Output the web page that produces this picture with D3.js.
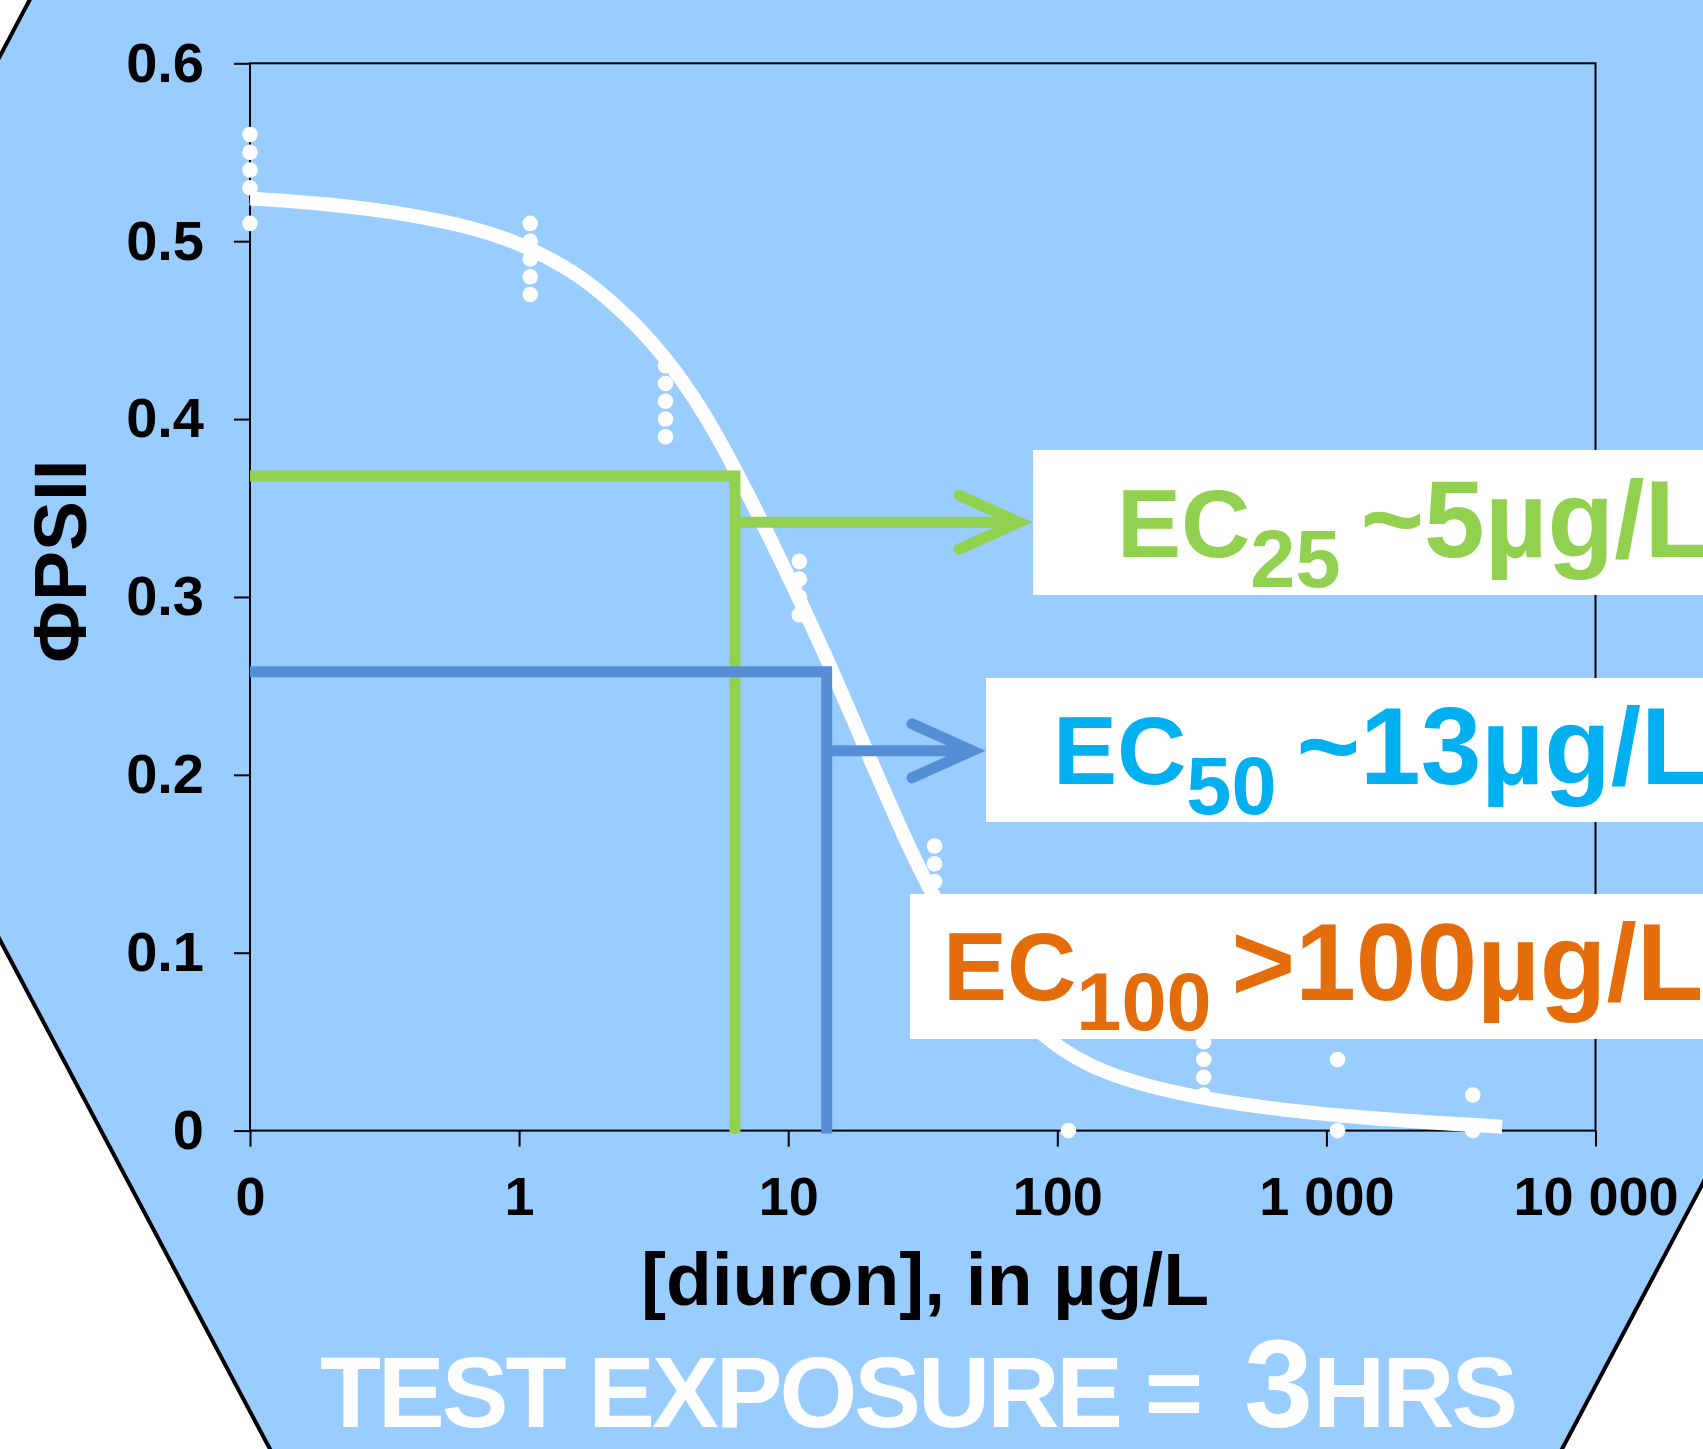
<!DOCTYPE html>
<html>
<head>
<meta charset="utf-8">
<script src="https://cdn.jsdelivr.net/npm/d3@7/dist/d3.min.js"></script>
<style>
	body { margin: 0; background: #ffffff; }
	svg { display: block; font-family: "Liberation Sans", Arial, sans-serif; }
</style>
</head>
<body>
<div id="chart"></div>
<script>

// doses in µg/L, the control (0) is drawn at the 0.1 position of the log axis
const xTickValues = [0.1, 1, 10, 100, 1000, 10000]
const xTickLabels = ["0", "1", "10", "100", "1 000", "10 000"]
const yTickValues = [0, 0.1, 0.2, 0.3, 0.4, 0.5, 0.6]

// replicate measurements of ΦPSII for each dose
const groupDose = [0.1, 1.1, 3.5, 11, 35, 110, 350, 1100, 3500]
const groupPhi = [
	[0.56, 0.55, 0.54, 0.53, 0.51],
	[0.51, 0.50, 0.49, 0.48, 0.47],
	[0.43, 0.42, 0.41, 0.40, 0.39],
	[0.32, 0.31, 0.30, 0.29],
	[0.16, 0.15, 0.14],
	[0],
	[0.05, 0.04, 0.03, 0.02],
	[0.04, 0],
	[0.02, 0]
]

// fitted dose-response curve
const fitDose = [0.1, 0.2, 0.4, 0.7, 1.0, 1.5, 2.0, 3.0, 4.0, 5.0, 6.2, 8.0, 10, 13.8, 20, 27, 34, 50, 90, 150, 350, 1100, 4500]
const fitPhi = [0.524, 0.521, 0.515, 0.507, 0.499, 0.4855, 0.472, 0.447, 0.423, 0.4005, 0.375, 0.342, 0.312, 0.267, 0.210, 0.165, 0.133, 0.092, 0.050, 0.031, 0.017, 0.0078, 0.0022]

// effect concentrations
const ecSub = ["25", "50", "100"]
const ecText = ["~5µg/L", "~13µg/L", ">100µg/L"]
const ecDose = [6.34, 13.9]
const ecPhi = [0.368, 0.258]
const ecArrowPhi = [0.342, 0.2135]


class DoseChart {

	constructor(parentElement){
		this.parentElement = parentElement
		this.initVis()
	}

	initVis(){
		let vis = this
		vis.width = 1703
		vis.height = 1449
		vis.plot = {left: 250, right: 1595.5, top: 63.3, bottom: 1130.6}

		vis.svg = d3.select(vis.parentElement)
			.append("svg")
			.attr("width", vis.width)
			.attr("height", vis.height)

		// !!Background hexagon
		vis.svg.append("polygon")
			.attr("points", [[-234, 499], [56, -50], [1800, -50], [1800, 1000], [1535, 1500], [297, 1500]].map(p => p.join(",")).join(" "))
			.attr("fill", "#99CCFF")
			.attr("stroke", "#000")
			.attr("stroke-width", 4)

		vis.x = d3.scaleLog()
			.domain([0.1, 10000])
			.range([vis.plot.left, vis.plot.right])

		vis.y = d3.scaleLinear()
			.domain([0, 0.6])
			.range([vis.plot.bottom, vis.plot.top])

		// !!Axes
		vis.svg.append("rect")
			.attr("x", vis.plot.left)
			.attr("y", vis.plot.top)
			.attr("width", vis.plot.right - vis.plot.left)
			.attr("height", vis.plot.bottom - vis.plot.top)
			.attr("fill", "none")
			.attr("stroke", "#000")
			.attr("stroke-width", 2)

		vis.yAxis = vis.svg.append("g")
			.attr("transform", "translate(" + vis.plot.left + ",0)")
			.call(d3.axisLeft(vis.y)
				.tickValues(yTickValues)
				.tickSize(16)
				.tickPadding(30)
				.tickFormat(d => d === 0 ? "0" : d.toFixed(1)))
		vis.yAxis.select(".domain").remove()

		vis.xAxis = vis.svg.append("g")
			.attr("transform", "translate(0," + vis.plot.bottom + ")")
			.call(d3.axisBottom(vis.x)
				.tickValues(xTickValues)
				.tickSize(16)
				.tickPadding(30)
				.tickFormat((d, i) => xTickLabels[i]))
		vis.xAxis.select(".domain").remove()

		vis.svg.selectAll(".tick line")
			.attr("stroke", "#000")
			.attr("stroke-width", 2)
		vis.svg.selectAll(".tick text")
			.attr("font-size", 54)
			.attr("font-weight", "bold")
			.attr("font-family", "'Liberation Sans', Arial, sans-serif")
			.attr("fill", "#000")
		vis.yAxis.selectAll(".tick text")
			.attr("font-size", 56)

		// !!Measured points
		let points = []
		groupDose.forEach(function(d, i){
			groupPhi[i].forEach(function(v){ points.push({dose: d, phi: v}) })
		})

		vis.svg.selectAll("circle.obs")
			.data(points)
			.enter()
			.append("circle")
			.attr("class", "obs")
			.attr("cx", d => vis.x(d.dose))
			.attr("cy", d => vis.y(d.phi))
			.attr("r", 7.8)
			.attr("fill", "#fff")

		// !!Fitted curve
		vis.line = d3.line()
			.x(d => vis.x(d[0]))
			.y(d => vis.y(d[1]))
			.curve(d3.curveBasis)

		vis.svg.append("path")
			.datum(fitDose.map((d, i) => [d, fitPhi[i]]))
			.attr("d", vis.line)
			.attr("fill", "none")
			.attr("stroke", "#fff")
			.attr("stroke-width", 14)

		// !!EC drop lines and arrows
		let lineColors = ["#92D050", "#558ED5"]
		let tipX = [1019, 972]

		ecDose.forEach(function(d, i){
			vis.svg.append("path")
				.attr("d", "M" + vis.x(0.1) + "," + vis.y(ecPhi[i])
					+ "H" + vis.x(d)
					+ "V" + (vis.plot.bottom + 3))
				.attr("fill", "none")
				.attr("stroke", lineColors[i])
				.attr("stroke-width", 11)

			let ay = vis.y(ecArrowPhi[i])
			vis.svg.append("line")
				.attr("x1", vis.x(d))
				.attr("x2", tipX[i])
				.attr("y1", ay)
				.attr("y2", ay)
				.attr("stroke", lineColors[i])
				.attr("stroke-width", 11)

			vis.svg.append("path")
				.attr("d", "M" + (tipX[i] - 60) + "," + (ay - 27)
					+ "L" + tipX[i] + "," + ay
					+ "L" + (tipX[i] - 60) + "," + (ay + 27))
				.attr("fill", "none")
				.attr("stroke", lineColors[i])
				.attr("stroke-width", 11)
				.attr("stroke-linecap", "round")
				.attr("stroke-miterlimit", 10)
		})

		// !!Label boxes
		let boxes = [
			{x: 1033, y: 450, h: 145, tx: 1117, base: 557},
			{x: 986, y: 678, h: 144, tx: 1053, base: 784},
			{x: 910, y: 894, h: 145, tx: 943, base: 1000}
		]
		let textColors = ["#92D050", "#00B0F0", "#E46C0A"]

		boxes.forEach(function(b, i){
			vis.svg.append("rect")
				.attr("x", b.x)
				.attr("y", b.y)
				.attr("width", vis.width - b.x + 20)
				.attr("height", b.h)
				.attr("fill", "#fff")

			let label = vis.svg.append("text")
				.attr("x", b.tx)
				.attr("y", b.base)
				.attr("fill", textColors[i])
				.attr("font-weight", "bold")
			label.append("tspan")
				.attr("font-size", 96)
				.text("EC")
			label.append("tspan")
				.attr("font-size", 81)
				.attr("dy", 30)
				.text(ecSub[i])
			label.append("tspan")
				.attr("font-size", 109)
				.attr("dy", -30)
				.attr("dx", 20)
				.text(ecText[i])
		})

		// !!Axis titles
		vis.svg.append("text")
			.attr("x", 925)
			.attr("y", 1305)
			.attr("text-anchor", "middle")
			.attr("font-size", 75)
			.attr("font-weight", "bold")
			.text("[diuron], in µg/L")

		vis.svg.append("text")
			.attr("transform", "translate(86,561) rotate(-90)")
			.attr("text-anchor", "middle")
			.attr("font-size", 75)
			.attr("font-weight", "bold")
			.text("ΦPSII")

		let title = vis.svg.append("text")
			.attr("y", 1427)
			.attr("fill", "#fff")
			.attr("font-weight", "bold")
		title.append("tspan")
			.attr("x", 320)
			.attr("font-size", 100)
			.attr("letter-spacing", -3)
			.text("TEST EXPOSURE =")
		title.append("tspan")
			.attr("x", 1244)
			.attr("font-size", 124)
			.text("3")
		title.append("tspan")
			.attr("x", 1313)
			.attr("font-size", 100)
			.attr("letter-spacing", -3)
			.text("HRS")
	}
}

new DoseChart("#chart")

</script>
</body>
</html>
